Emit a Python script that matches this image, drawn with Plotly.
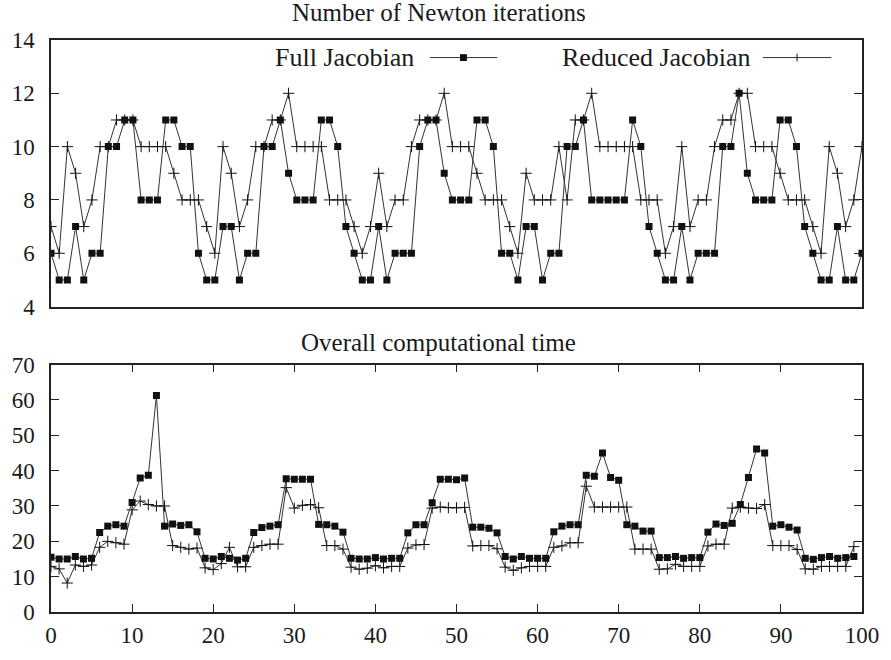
import plotly.graph_objects as go

iters_x = list(range(100))
full_iters = [6, 5, 5, 7, 5, 6, 6, 10, 10, 11, 11, 8, 8, 8, 11, 11, 10, 10, 6, 5,
              5, 7, 7, 5, 6, 6, 10, 10, 11, 9, 8, 8, 8, 11, 11, 10, 7, 6, 5, 5,
              7, 5, 6, 6, 6, 10, 11, 11, 9, 8, 8, 8, 11, 11, 10, 6, 6, 5, 7, 7,
              5, 6, 6, 10, 10, 11, 8, 8, 8, 8, 8, 11, 10, 7, 6, 5, 5, 7, 5, 6,
              6, 6, 10, 10, 12, 9, 8, 8, 8, 11, 11, 10, 7, 6, 5, 5, 7, 5, 5, 6]
reduced_iters = [7, 6, 10, 9, 7, 8, 10, 10, 11, 11, 11, 10, 10, 10, 10, 9, 8, 8, 8, 7,
                 6, 10, 9, 7, 8, 10, 10, 11, 11, 12, 10, 10, 10, 10, 8, 8, 8, 7, 6, 7,
                 9, 7, 8, 8, 10, 11, 11, 11, 12, 10, 10, 10, 9, 8, 8, 8, 7, 6, 9, 8,
                 8, 8, 10, 8, 11, 11, 12, 10, 10, 10, 10, 10, 8, 8, 8, 6, 7, 10, 7, 8,
                 8, 10, 11, 11, 12, 12, 10, 10, 10, 9, 8, 8, 8, 7, 6, 10, 9, 7, 8, 10]

time_x = list(range(100))
full_time = [15.5, 15.0, 15.0, 15.7, 15.0, 15.2, 22.5, 24.3, 24.7, 24.3,
             31.0, 37.9, 38.7, 61.3, 24.3, 24.9, 24.5, 24.7, 22.7, 15.2,
             15.0, 15.7, 15.2, 14.7, 15.2, 22.5, 23.9, 24.3, 24.7, 37.7,
             37.6, 37.6, 37.6, 24.8, 24.7, 24.3, 22.6, 15.2, 15.0, 15.0,
             15.4, 15.0, 15.2, 15.2, 22.4, 24.7, 24.7, 30.9, 37.6, 37.6,
             37.4, 37.9, 24.0, 24.0, 23.7, 22.4, 15.7, 15.0, 15.7, 15.2,
             15.2, 15.2, 22.7, 24.3, 24.7, 24.7, 38.7, 38.4, 45.0, 38.1,
             37.3, 24.7, 24.3, 22.9, 22.9, 15.4, 15.4, 15.7, 15.2, 15.4,
             15.4, 22.6, 24.9, 24.5, 25.1, 30.4, 38.1, 46.1, 45.0, 24.3,
             24.7, 24.0, 23.2, 15.2, 14.9, 15.4, 15.7, 15.2, 15.4, 15.7]
reduced_time = [12.9, 12.2, 8.2, 13.3, 12.9, 13.3, 18.3, 20.0, 19.6, 19.2,
                28.9, 31.4, 30.4, 30.0, 30.0, 18.8, 18.3, 17.8, 18.1, 12.5,
                12.0, 13.7, 18.3, 12.8, 12.8, 18.3, 18.8, 19.2, 19.2, 35.2,
                29.4, 30.2, 30.4, 29.5, 18.8, 18.8, 17.8, 12.7, 12.1, 12.4,
                13.1, 12.5, 12.9, 12.9, 18.1, 19.0, 19.1, 29.4, 29.7, 29.5,
                29.5, 29.6, 18.7, 18.8, 18.8, 17.9, 12.7, 11.8, 12.5, 12.9,
                12.9, 12.9, 18.3, 18.7, 19.6, 19.6, 35.6, 29.7, 29.7, 29.7,
                29.7, 29.7, 17.8, 17.8, 17.8, 12.1, 12.2, 13.5, 12.9, 12.9,
                12.9, 18.7, 19.2, 19.2, 29.4, 29.7, 29.4, 29.3, 30.4, 18.8,
                18.8, 18.8, 17.7, 12.2, 12.1, 12.9, 12.9, 12.9, 12.9, 18.5]

series_names = ["Full Jacobian", "Reduced Jacobian"]
titles = ["Number of Newton iterations", "Overall computational time"]

FONT = "Liberation Serif, DejaVu Serif, serif"
LINE_C = "#333333"
MARK_C = "#111111"
TEXT_C = "#1a1a1a"

full_style = dict(mode="lines+markers", line=dict(color=LINE_C, width=1),
                  marker=dict(symbol="square", size=7, color=MARK_C))
red_style = dict(mode="lines+markers", line=dict(color=LINE_C, width=1),
                 marker=dict(symbol="cross-thin", size=8,
                             line=dict(color=MARK_C, width=1)))

fig = go.Figure()
fig.add_trace(go.Scatter(x=iters_x, y=reduced_iters, name=series_names[1],
                         xaxis="x", yaxis="y", **red_style))
fig.add_trace(go.Scatter(x=iters_x, y=full_iters, name=series_names[0],
                         xaxis="x", yaxis="y", **full_style))
fig.add_trace(go.Scatter(x=time_x, y=reduced_time, name=series_names[1],
                         xaxis="x2", yaxis="y2", **red_style))
fig.add_trace(go.Scatter(x=time_x, y=full_time, name=series_names[0],
                         xaxis="x2", yaxis="y2", **full_style))

axis_common = dict(showline=True, linecolor="#222", linewidth=1.5, mirror="ticks",
                   ticks="inside", ticklen=8, tickcolor="#222", tickwidth=1,
                   showgrid=False, zeroline=False,
                   tickfont=dict(family=FONT, size=23, color=TEXT_C))

top_dom = [0.534, 1.0]
bot_dom = [0.0, 0.4324]

fig.update_layout(
    width=891, height=660,
    margin=dict(l=51, r=22, t=40, b=34),
    paper_bgcolor="white", plot_bgcolor="white",
    showlegend=False,
    xaxis=dict(axis_common, domain=[0, 1], range=[0, 99], anchor="y",
               showticklabels=False, ticks=""),
    yaxis=dict(axis_common, domain=top_dom, range=[4, 14], dtick=2, anchor="x",
               ticklabelstandoff=10),
    xaxis2=dict(axis_common, domain=[0, 1], range=[0, 100], dtick=10, anchor="y2",
                ticklabelstandoff=2),
    yaxis2=dict(axis_common, domain=bot_dom, range=[0, 70], dtick=10, anchor="x2",
                ticklabelstandoff=10),
)


def px_x(p):
    return (p - 51) / 818.0


def px_y(p):
    return (626 - p) / 586.0


# subplot titles
for t, py in zip(titles, [12, 350]):
    fig.add_annotation(text=t, xref="paper", yref="paper", x=px_x(442), y=px_y(py),
                       showarrow=False, xanchor="center", yanchor="middle",
                       font=dict(family=FONT, size=25, color=TEXT_C))

# gnuplot-style legend (text left of sample)
LEG_Y = 58
ly = px_y(LEG_Y)
legend_items = [
    (series_names[0], 419, 433, 501, 467, "square"),
    (series_names[1], 758, 769, 838, 803.5, "plus"),
]
for name, text_end, l0, l1, mk, kind in legend_items:
    fig.add_annotation(text=name, xref="paper", yref="paper", x=px_x(text_end), y=ly,
                       showarrow=False, xanchor="right", yanchor="middle",
                       font=dict(family=FONT, size=26, color=TEXT_C))
    fig.add_shape(type="line", xref="paper", yref="paper", x0=px_x(l0), x1=px_x(l1),
                  y0=ly, y1=ly, line=dict(color=LINE_C, width=1))
    if kind == "square":
        fig.add_shape(type="rect", xref="paper", yref="paper",
                      x0=px_x(mk - 3.5), x1=px_x(mk + 3.5),
                      y0=px_y(LEG_Y + 3.5), y1=px_y(LEG_Y - 3.5),
                      line=dict(width=0), fillcolor=MARK_C)
    else:
        fig.add_shape(type="line", xref="paper", yref="paper",
                      x0=px_x(mk), x1=px_x(mk), y0=px_y(LEG_Y + 4), y1=px_y(LEG_Y - 4),
                      line=dict(color=MARK_C, width=1))

fig.write_html("out.html")
